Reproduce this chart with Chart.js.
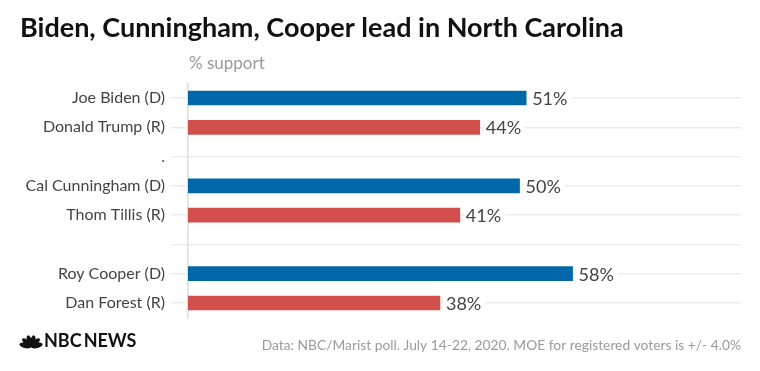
<!DOCTYPE html>
<html><head><meta charset="utf-8">
<script src="https://cdn.jsdelivr.net/npm/chart.js@4.4.1/dist/chart.umd.min.js"></script>
<style>html,body{margin:0;padding:0;background:#fff;}#wrap{width:760px;height:371px;position:relative;}</style>
</head><body><div id="wrap"><canvas id="c" width="760" height="371"></canvas></div>
<script>
const categories = ["Joe Biden (D)", "Donald Trump (R)", ".", "Cal Cunningham (D)", "Thom Tillis (R)", "", "Roy Cooper (D)", "Dan Forest (R)"];
const parties = ["D", "R", "", "D", "R", "", "D", "R"];
const support = [51, 44, null, 50, 41, null, 58, 38];
const titleText = "Biden, Cunningham, Cooper lead in North Carolina";
const subtitleText = "% support";
const sourceText = "Data: NBC/Marist poll. July 14-22, 2020. MOE for registered voters is +/- 4.0%";
const xMax = 83.4;

const BLUE = "#0068a9", RED = "#d24e4b";
const FONT = "Lato, 'Open Sans', sans-serif";

const textPlugin = {
  id: "texts",
  afterDraw(chart) {
    const ctx = chart.ctx;
    ctx.save();
    ctx.fillStyle = "#111";
    ctx.font = "bold 27px " + FONT;
    ctx.textBaseline = "alphabetic";
    ctx.textAlign = "left";
    ctx.fillText(titleText, 20, 37);
    ctx.fillStyle = "#9a9a9a";
    ctx.font = "17px " + FONT;
    ctx.fillText(subtitleText, 189, 69);
    ctx.font = "13.8px " + FONT;
    ctx.textAlign = "right";
    ctx.fillText(sourceText, 741, 350);
    // NBC logo
    ctx.fillStyle = "#111";
    const cx = 31, cy = 347;
    for (let i = 0; i < 6; i++) {
      const a = Math.PI * (1.08 + i * 0.168);
      ctx.save();
      ctx.translate(cx + Math.cos(a) * 6, cy + Math.sin(a) * 6);
      ctx.rotate(a + Math.PI / 2);
      ctx.beginPath();
      ctx.ellipse(0, 0, 2.6, 6, 0, 0, Math.PI * 2);
      ctx.fill();
      ctx.restore();
    }
    ctx.textAlign = "left";
    ctx.font = "bold 18px " + FONT;
    ctx.fillText("NBC", 44, 347);
    const w = ctx.measureText("NBC").width;
    ctx.fillText("NEWS", 44 + w + 2, 347);
    ctx.restore();
  }
};

const labelPlugin = {
  id: "valueLabels",
  afterDatasetsDraw(chart) {
    const ctx = chart.ctx;
    const meta = chart.getDatasetMeta(0);
    ctx.save();
    ctx.font = "18px " + FONT;
    ctx.textBaseline = "middle";
    ctx.textAlign = "left";
    meta.data.forEach((bar, i) => {
      const v = support[i];
      if (v === null || v === undefined) return;
      const t = v + "%";
      const w = ctx.measureText(t).width;
      const x = bar.x + 6;
      ctx.fillStyle = "#fff";
      ctx.fillRect(x - 2, bar.y - 10, w + 6, 20);
      ctx.fillStyle = "#444";
      ctx.fillText(t, x, bar.y + 1);
    });
    ctx.restore();
  }
};

new Chart(document.getElementById("c"), {
  type: "bar",
  data: {
    labels: categories,
    datasets: [{
      data: support,
      backgroundColor: parties.map(p => p === "D" ? BLUE : RED),
      barThickness: 14,
      borderWidth: 0
    }]
  },
  options: {
    indexAxis: "y",
    responsive: false,
    animation: false,
    layout: { padding: { left: 0, right: 19, top: 83.4, bottom: 53.4 } },
    plugins: { legend: { display: false }, tooltip: { enabled: false } },
    scales: {
      x: { display: false, min: 0, max: xMax },
      y: {
        afterFit(scale) { scale.width = 188; },
        grid: { color: "#ececec", lineWidth: 1.5, tickLength: 17, drawOnChartArea: true, offset: false },
        border: { display: true, color: "#dcdcdc", width: 1.5 },
        ticks: { color: "#444", font: { family: FONT, size: 16 }, padding: 6 }
      }
    }
  },
  plugins: [textPlugin, labelPlugin]
});
</script></body></html>
